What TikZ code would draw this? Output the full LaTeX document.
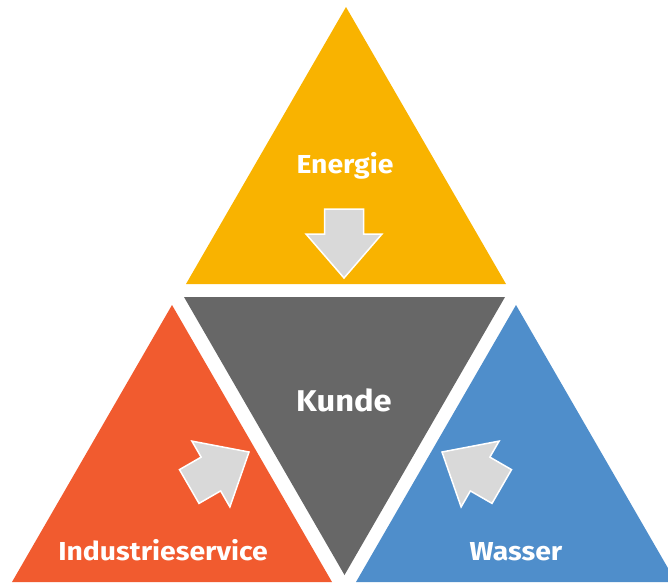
\documentclass[tikz,border=0pt]{standalone}
\usepackage{fontspec}
\setmainfont[FakeStretch=1.09]{Fira Sans}
\definecolor{gelb}{HTML}{F9B300}
\definecolor{grau}{HTML}{676767}
\definecolor{orange}{HTML}{F15B2F}
\definecolor{blau}{HTML}{4F8ECB}
\definecolor{pfeilgrau}{HTML}{D9D9D9}
\tikzset{
	pfeil/.style={fill=pfeilgrau,draw=white,line width=1.5pt,line join=miter},
	label/.style={text=white,font=\bfseries\fontsize{26}{26}\selectfont,anchor=base}
}
\begin{document}
\begin{tikzpicture}[x=1pt,y=-1pt]
	\clip (0,0) rectangle (668,582);
	% Dreiecke
	\fill[gelb] (346,7)--(506,284)--(186,284)--cycle;
	\fill[grau] (184,297)--(505,297)--(344.5,575)--cycle;
	\fill[orange] (172,305)--(332,582)--(12,582)--cycle;
	\fill[blau] (516,305)--(676,582)--(356,582)--cycle;
	% Pfeile
	\foreach \x/\y/\w in {344/278/-90, 249/452/30, 442/452/150}
		\draw[pfeil,shift={(\x,\y)},rotate=\w] (0,0)--(-44,38)--(-44,19.5)--(-69,19.5)--(-69,-19.5)--(-44,-19.5)--(-44,-38)--cycle;
	% Beschriftung
	\node[label] (energie) at (345,173) {Energie};
	\node[label,font=\bfseries\fontsize{30}{30}\selectfont] (kunde) at (344,411) {Kunde};
	\node[label] (industrie) at (163,560) {Industrieservice};
	\node[label] (wasser) at (516,560) {Wasser};
\end{tikzpicture}
\end{document}
